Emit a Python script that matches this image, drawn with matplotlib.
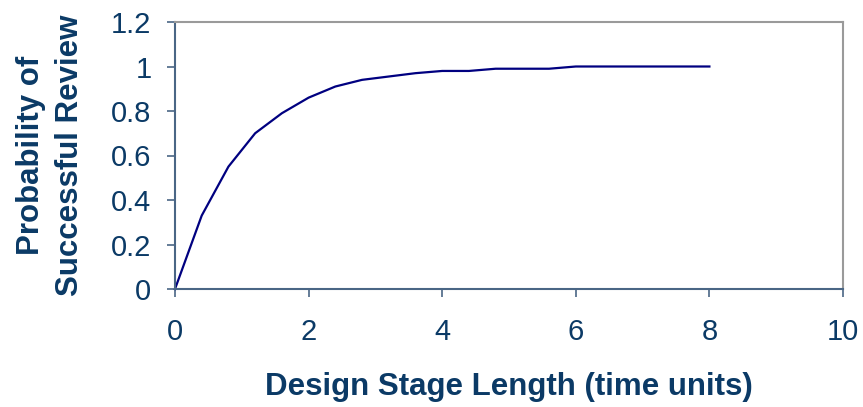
import matplotlib
matplotlib.use('Agg')
from matplotlib import pyplot as plt

# design stage length (time units) vs probability of successful review
stage_len = [0, 0.4, 0.8, 1.2, 1.6, 2.0, 2.4, 2.8, 3.2, 3.6, 4.0,
	4.4, 4.8, 5.2, 5.6, 6.0, 6.4, 6.8, 7.2, 7.6, 8.0]
prob_ok = [0, 0.33, 0.55, 0.70, 0.79, 0.86, 0.91, 0.94, 0.955, 0.97, 0.98,
	0.98, 0.99, 0.99, 0.99, 1.0, 1.0, 1.0, 1.0, 1.0, 1.0]

xticks = [0, 2, 4, 6, 8, 10]
yticks = [0, 0.2, 0.4, 0.6, 0.8, 1, 1.2]
ytick_labels = ['0', '0.2', '0.4', '0.6', '0.8', '1', '1.2']

txt_color = '#0b3a66'
spine_color = '#4a6685'

plt.rcParams['font.family'] = ['Liberation Sans', 'DejaVu Sans']

fig = plt.figure(figsize=(8.63, 4.07), dpi=100)
ax = fig.add_axes([175/863, 1-289/407, (843-175)/863, (289-22)/407])

ax.plot(stage_len, prob_ok, color='#000080', lw=1.6, clip_on=False)

ax.set_xlim(0, 10)
ax.set_ylim(0, 1.2)
ax.set_xticks(xticks)
ax.set_yticks(yticks)
ax.set_yticklabels(ytick_labels)

for s in ('left', 'bottom'):
	ax.spines[s].set_color(spine_color)
	ax.spines[s].set_linewidth(1.5)
for s in ('top', 'right'):
	ax.spines[s].set_color('#9a9a9a')
	ax.spines[s].set_linewidth(1.5)

ax.tick_params(axis='both', direction='out', length=6, width=1.2,
	color=spine_color, labelsize=21, labelcolor=txt_color)
ax.tick_params(axis='y', pad=11)
ax.tick_params(axis='x', pad=15)

ax.set_xlabel('Design Stage Length (time units)', fontsize=22.5,
	fontweight='bold', color=txt_color)
ax.xaxis.set_label_coords(0.5, -0.31)
ax.set_ylabel('Probability of\nSuccessful Review', fontsize=22.5,
	fontweight='bold', color=txt_color, linespacing=1.4)
ax.yaxis.set_label_coords(-0.135, 0.5)

fig.savefig('out.png', dpi=100)
